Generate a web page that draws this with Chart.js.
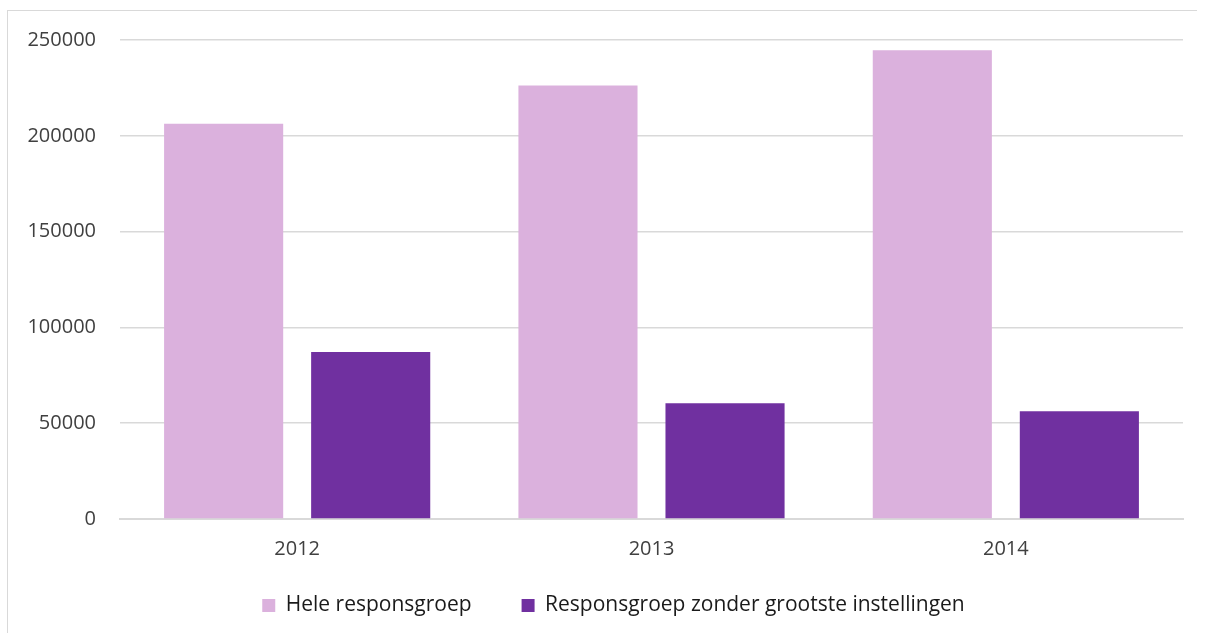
<!DOCTYPE html>
<html>
<head>
<meta charset="utf-8">
<script src="https://cdn.jsdelivr.net/npm/chart.js@4.4.1/dist/chart.umd.min.js"></script>
<style>
html,body{margin:0;padding:0;background:#fff;}
#frame{position:absolute;left:7px;top:10px;width:1189px;height:622px;border:1px solid #d9d9d9;border-right:none;border-bottom:none;}
#wrap{position:absolute;left:0;top:0;width:1189px;height:622px;}
</style>
</head>
<body>
<div id="frame"><div id="wrap"><canvas id="c"></canvas></div></div>
<script>
const categories = ['2012', '2013', '2014'];
const heleResponsgroep = [206300, 226300, 244600];
const zonderGrootste = [87200, 60400, 56200];
const seriesNames = ['Hele responsgroep', 'Responsgroep zonder grootste instellingen'];
const yTicks = [0, 50000, 100000, 150000, 200000, 250000];

const FONT = 'Open Sans';

// nudge the legend to where the reference draws it
const legendShift = {
  id: 'legendShift',
  afterLayout(chart) {
    const lg = chart.legend;
    if (!lg) return;
    const dx = 11, dy = -19;
    lg.left += dx; lg.right += dx; lg.top += dy; lg.bottom += dy;
  }
};

new Chart(document.getElementById('c'), {
  type: 'bar',
  data: {
    labels: categories,
    datasets: [
      { label: seriesNames[0], data: heleResponsgroep, backgroundColor: '#dbb1dd', categoryPercentage: 0.83, barPercentage: 0.81 },
      { label: seriesNames[1], data: zonderGrootste, backgroundColor: '#7030a0', categoryPercentage: 0.83, barPercentage: 0.81 }
    ]
  },
  plugins: [legendShift],
  options: {
    responsive: true,
    maintainAspectRatio: false,
    animation: false,
    layout: { padding: { top: 29, right: 14, left: 14, bottom: -12 } },
    plugins: {
      legend: {
        position: 'bottom',
        labels: {
          boxWidth: 13, boxHeight: 13, padding: 50,
          color: '#1a1a1a',
          font: { family: FONT, size: 21 }
        }
      },
      tooltip: { enabled: false }
    },
    scales: {
      x: {
        afterFit: (s) => { s.height = 45; },
        grid: { display: false, drawTicks: false },
        border: { color: '#d9d9d9', width: 2 },
        ticks: { color: '#404040', padding: 18, font: { family: FONT, size: 20 } }
      },
      y: {
        min: 0, max: 250000,
        afterBuildTicks: (s) => { s.ticks = yTicks.map(v => ({ value: v })); },
        afterFit: (s) => { s.width = 98; },
        grid: { color: '#d9d9d9', lineWidth: 1.5, drawTicks: true, tickLength: 18, tickColor: 'rgba(0,0,0,0)' },
        border: { display: false },
        ticks: { color: '#404040', padding: 6, font: { family: FONT, size: 20 },
          callback: (v) => String(v) }
      }
    }
  }
});
</script>
</body>
</html>
